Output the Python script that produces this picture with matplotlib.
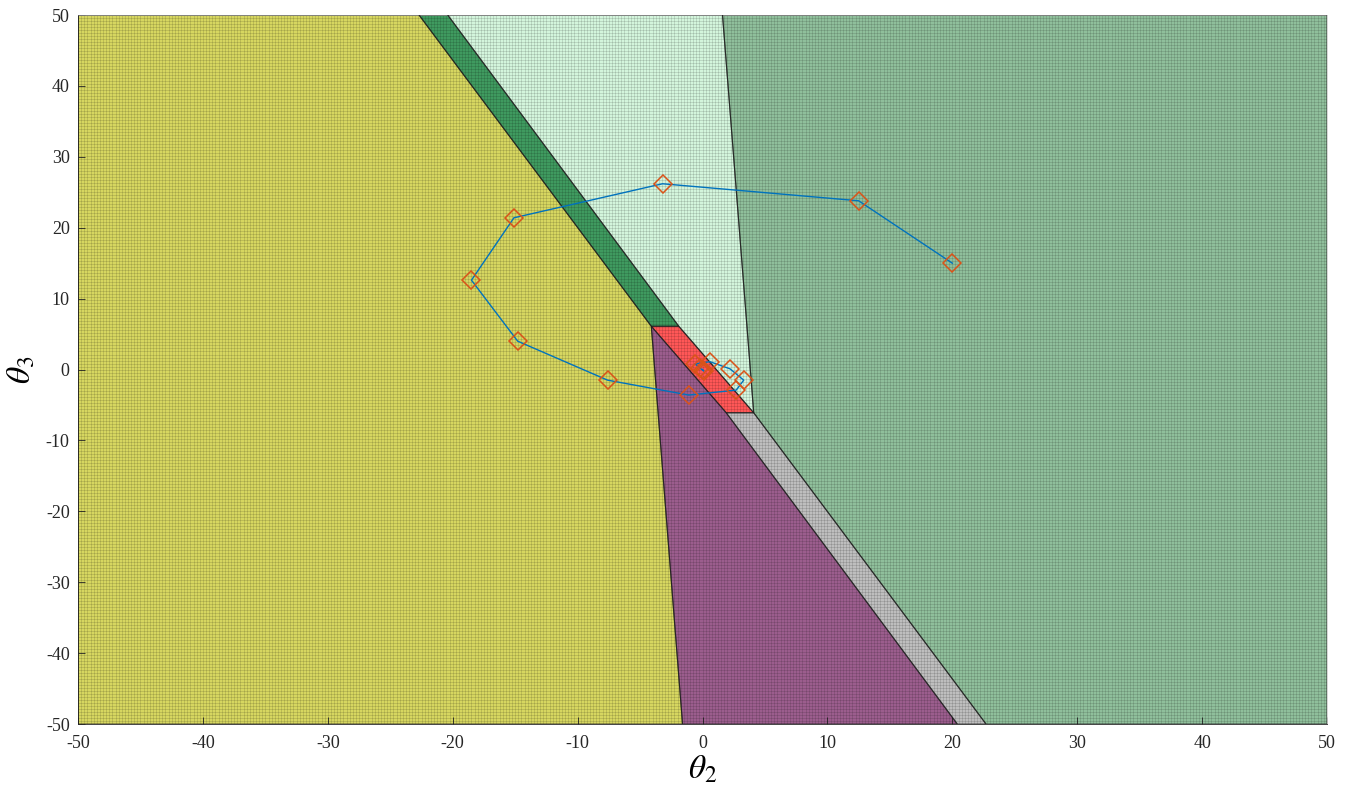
import numpy as np
import matplotlib
matplotlib.use("Agg")
import matplotlib.pyplot as plt
from matplotlib.patches import Polygon

plt.rcParams["mathtext.fontset"] = "stix"
plt.rcParams["axes.unicode_minus"] = False

# region vertices (theta2, theta3)
yellow_xy = [(-50, -50), (-1.6, -50), (-4.1, 6.1), (-22.7, 50), (-50, 50)]
band_xy = [(-4.1, 6.1), (-22.7, 50), (-20.4, 50), (-1.9, 6.1)]
mint_xy = [(-1.9, 6.1), (-20.4, 50), (1.6, 50), (4.1, -6.1)]
red_xy = [(-4.1, 6.1), (-1.9, 6.1), (4.1, -6.1), (1.9, -6.1)]
purple_xy = [(-4.1, 6.1), (1.9, -6.1), (20.4, -50), (-1.6, -50)]
gray_xy = [(1.9, -6.1), (4.1, -6.1), (22.7, -50), (20.4, -50)]
green_xy = [(4.1, -6.1), (1.6, 50), (50, 50), (50, -50), (22.7, -50)]

regions = [
    (yellow_xy, "#d6d660"),
    (band_xy, "#3f9a5f"),
    (mint_xy, "#d3f5dc"),
    (red_xy, "#ff5757"),
    (purple_xy, "#9b5d8d"),
    (gray_xy, "#bebebe"),
    (green_xy, "#8fbf9b"),
]

# closed-loop trajectory
traj_x = [20.0, 12.5, -3.2, -15.1, -18.5, -14.8, -7.6, -1.1, 2.7, 3.3, 2.2, 0.6, -0.6, -0.2, 0.1, 0.0]
traj_y = [15.0, 23.8, 26.2, 21.4, 12.6, 4.0, -1.5, -3.6, -2.9, -1.5, 0.1, 1.1, 0.8, 0.2, -0.2, 0.0]

fig = plt.figure(figsize=(13.48, 7.9), dpi=100)
ax = fig.add_axes([0.0579, 0.0835, 0.9265, 0.8975])

for xy, fc in regions:
    ax.add_patch(Polygon(xy, closed=True, facecolor=fc, edgecolor="none", zorder=1))

# mesh texture
gx = np.arange(-50, 50.01, 0.25)
gy = np.linspace(-50, 50, 237)
ax.vlines(gx, -50, 50, colors="k", alpha=0.14, linewidth=0.6, zorder=2)
ax.hlines(gy, -50, 50, colors="k", alpha=0.14, linewidth=0.6, zorder=2)

for xy, fc in regions:
    ax.add_patch(Polygon(xy, closed=True, facecolor="none", edgecolor="#1a1a1a",
                         linewidth=0.8, alpha=0.7, zorder=3))

ax.plot(traj_x, traj_y, color="#0072bd", linewidth=1.0, zorder=4)
ax.plot(traj_x, traj_y, linestyle="none", marker="D", markersize=9,
        markerfacecolor="none", markeredgecolor="#d95319", markeredgewidth=1.1, zorder=5)

ax.set_xlim(-50, 50)
ax.set_ylim(-50, 50)
ax.set_xticks(np.arange(-50, 51, 10))
ax.set_yticks(np.arange(-50, 51, 10))
ax.tick_params(direction="in", length=5, width=0.6, labelsize=13, colors="#262626",
               top=False, right=False)
ax.tick_params(axis="x", pad=8)
ax.tick_params(axis="y", pad=6)
for lab in ax.get_xticklabels() + ax.get_yticklabels():
    lab.set_family("Liberation Serif")
for s in ax.spines.values():
    s.set_linewidth(0.6)
    s.set_color("#262626")
ax.spines["top"].set_color("#d0d0d0")
ax.spines["right"].set_color("#d0d0d0")

ax.set_xlabel(r"$\theta_2$", fontsize=24, labelpad=0)
ax.set_ylabel(r"$\theta_3$", fontsize=24, labelpad=6)

fig.savefig("out.png", dpi=100)
